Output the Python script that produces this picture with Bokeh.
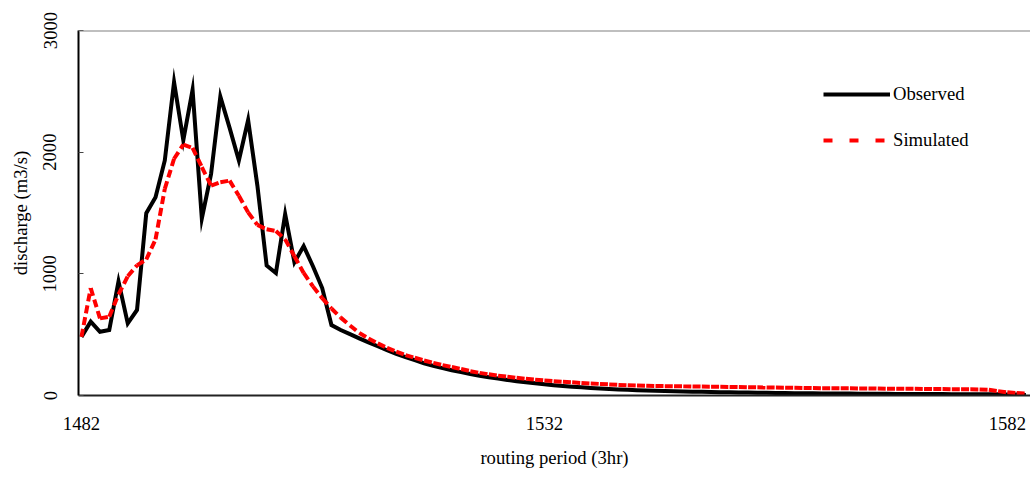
import numpy as np
from bokeh.plotting import figure
from bokeh.models import Range1d, FixedTicker, Legend, LegendItem, Span
from bokeh.embed import file_html
from bokeh.resources import INLINE

periods = list(range(1482, 1585))

observed = [
    482, 607, 524, 538, 938, 593, 703, 1499, 1629, 1932,
    2576, 2098, 2512, 1455, 1822, 2457, 2200, 1932, 2264, 1725,
    1068, 1007, 1490, 1095, 1228, 1062, 883, 579, 538, 505,
    470, 437, 405, 372, 342, 315, 290, 265, 243, 225,
    208, 192, 177, 163, 150, 139, 128, 118, 109, 100,
    92, 85, 78, 72, 67, 62, 58, 54, 50, 47,
    44, 41, 39, 37, 35, 33, 31, 30, 28, 27,
    26, 25, 24, 23, 22, 21, 20, 19, 19, 18,
    17, 17, 16, 16, 15, 15, 14, 14, 13, 13,
    13, 12, 12, 12, 11, 11, 11, 10, 10, 10,
    9, 8, 5,
]

simulated = [
    482, 883, 634, 648, 830, 980, 1070, 1118, 1283, 1698,
    1946, 2062, 2035, 1877, 1725, 1753, 1766, 1642, 1505, 1402,
    1366, 1352, 1283, 1145, 1007, 897, 800, 715, 640, 575,
    515, 468, 428, 392, 360, 332, 310, 288, 268, 250,
    234, 218, 200, 186, 174, 163, 154, 145, 137, 130,
    124, 118, 113, 108, 103, 99, 95, 91, 87, 84,
    82, 80, 78, 77, 76, 75, 74, 73, 72, 71,
    70, 69, 68, 67, 66, 65, 64, 63, 62, 61,
    60, 60, 59, 59, 58, 58, 57, 56, 56, 55,
    55, 54, 53, 53, 52, 51, 51, 50, 48, 36,
    26, 20, 15,
]

x_ticks = [1482, 1532, 1582]
y_ticks = [0, 1000, 2000, 3000]

FONT = "Liberation Serif"
FS = "18.67px"

p = figure(width=1030, height=474, output_backend="svg", toolbar_location=None,
           x_range=Range1d(1481.68, 1584.5), y_range=Range1d(0, 3000),
           min_border_left=78, min_border_right=0, min_border_top=30,
           min_border_bottom=79)

p.xgrid.visible = False
p.ygrid.visible = False
p.outline_line_color = None
p.background_fill_color = "white"
p.border_fill_color = "white"

# axes
p.xaxis.ticker = FixedTicker(ticks=x_ticks)
p.yaxis.ticker = FixedTicker(ticks=y_ticks)
for ax in (p.xaxis[0], p.yaxis[0]):
    ax.major_label_text_font = FONT
    ax.major_label_text_font_size = FS
    ax.major_label_text_color = "black"
    ax.minor_tick_line_color = None
    ax.axis_line_width = 2
    ax.axis_line_color = "black"
    ax.axis_label_text_font = FONT
    ax.axis_label_text_font_size = FS
    ax.axis_label_text_font_style = "normal"
    ax.axis_label_text_color = "black"

p.xaxis.major_tick_in = 0
p.xaxis.major_tick_out = 0
p.xaxis.major_label_standoff = 21
p.xaxis.axis_line_color = "#222222"
p.xaxis.axis_label = "routing period (3hr)"
p.xaxis.axis_label_standoff = 14

p.yaxis.major_tick_in = 5
p.yaxis.major_tick_out = 0
p.yaxis.major_tick_line_width = 1
p.yaxis.major_tick_line_color = "#444444"
p.yaxis.major_label_orientation = "vertical"
p.yaxis.major_label_standoff = 22
p.yaxis.axis_label = "discharge (m3/s)"
p.yaxis.axis_label_standoff = 10

# top border of plot area
p.add_layout(Span(location=3000, dimension="width", line_color="#808080", line_width=2))

# series
r_obs = p.line(periods, observed, line_color="black", line_width=4, line_join="miter")
r_sim = p.segment(x0=periods[:-1], y0=simulated[:-1], x1=periods[1:], y1=simulated[1:],
                  line_color="#FF0000", line_width=4, line_dash="8 4")

# legend key for the simulated series (Excel draws a sparser dash in its key);
# it has no drawable points, so it only appears in the legend
r_key = p.line(x=np.array([1482.0, 1483.0]), y=np.array([np.nan, np.nan]),
               line_color="#FF0000", line_width=4, line_dash="9 17")

legend = Legend(items=[LegendItem(label="Observed", renderers=[r_obs]),
                       LegendItem(label="Simulated", renderers=[r_key])],
                location=(745, 244), glyph_width=67, glyph_height=20,
                label_standoff=3, spacing=24, padding=0, margin=0,
                border_line_color=None, background_fill_alpha=0,
                label_text_font=FONT, label_text_font_size=FS,
                label_text_color="black")
p.add_layout(legend)

open("out.html", "w").write(file_html(p, INLINE))
